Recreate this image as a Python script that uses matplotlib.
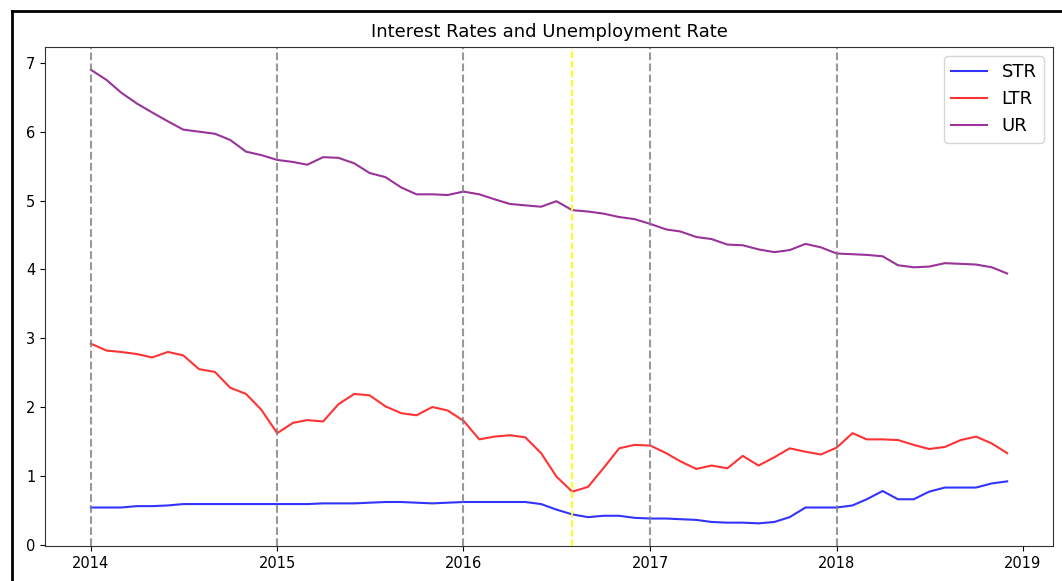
import matplotlib
matplotlib.use("Agg")
import matplotlib.pyplot as plt
import pandas as pd
from matplotlib.lines import Line2D

# monthly values, Jan 2014 .. Dec 2018
dates = pd.date_range("2014-01-01", periods=60, freq="MS")

str_rate = [0.54, 0.54, 0.54, 0.56, 0.56, 0.57, 0.59, 0.59, 0.59, 0.59, 0.59, 0.59,
            0.59, 0.59, 0.59, 0.60, 0.60, 0.60, 0.61, 0.62, 0.62, 0.61, 0.60, 0.61,
            0.62, 0.62, 0.62, 0.62, 0.62, 0.59, 0.51, 0.44, 0.40, 0.42, 0.42, 0.39,
            0.38, 0.38, 0.37, 0.36, 0.33, 0.32, 0.32, 0.31, 0.33, 0.40, 0.54, 0.54,
            0.54, 0.57, 0.66, 0.78, 0.66, 0.66, 0.77, 0.83, 0.83, 0.83, 0.89, 0.92]

ltr_rate = [2.92, 2.82, 2.80, 2.77, 2.72, 2.80, 2.75, 2.55, 2.51, 2.28, 2.19, 1.96,
            1.62, 1.77, 1.81, 1.79, 2.04, 2.19, 2.17, 2.01, 1.91, 1.88, 2.00, 1.95,
            1.80, 1.53, 1.57, 1.59, 1.56, 1.33, 0.99, 0.77, 0.84, 1.11, 1.40, 1.45,
            1.44, 1.33, 1.21, 1.10, 1.15, 1.11, 1.29, 1.15, 1.27, 1.40, 1.35, 1.31,
            1.41, 1.62, 1.53, 1.53, 1.52, 1.45, 1.39, 1.42, 1.52, 1.57, 1.47, 1.33]

ur_rate = [6.90, 6.75, 6.57, 6.41, 6.28, 6.15, 6.03, 6.00, 5.97, 5.88, 5.71, 5.66,
           5.59, 5.56, 5.52, 5.63, 5.62, 5.54, 5.40, 5.34, 5.19, 5.09, 5.09, 5.08,
           5.13, 5.09, 5.02, 4.95, 4.93, 4.91, 4.99, 4.86, 4.84, 4.81, 4.76, 4.73,
           4.66, 4.58, 4.55, 4.47, 4.44, 4.36, 4.35, 4.29, 4.25, 4.28, 4.37, 4.32,
           4.23, 4.22, 4.21, 4.19, 4.06, 4.03, 4.04, 4.09, 4.08, 4.07, 4.03, 3.94]

year_lines = ["2014-01-01", "2015-01-01", "2016-01-01", "2017-01-01", "2018-01-01"]
event_line = "2016-08-01"

fig = plt.figure(figsize=(10.62, 5.81), dpi=100)
ax = fig.add_axes([0.0424, 0.0602, 0.9491, 0.8588])

ax.plot(dates, str_rate, color="blue", alpha=0.8, lw=1.5, label="STR")
ax.plot(dates, ltr_rate, color="red", alpha=0.8, lw=1.5, label="LTR")
ax.plot(dates, ur_rate, color="purple", alpha=0.8, lw=1.5, label="UR")

for d in year_lines:
    ax.axvline(pd.Timestamp(d), color="gray", linestyle="--", lw=1.5, alpha=0.8)
ax.axvline(pd.Timestamp(event_line), color="yellow", linestyle="--", lw=1.3)

ax.set_title("Interest Rates and Unemployment Rate", fontsize=13, pad=7)
ax.tick_params(labelsize=10.5)
for s in ax.spines.values():
    s.set_color("#333333")
ax.legend(loc="upper right", fontsize=13)

# screenshot frame (left and top edges)
fig.add_artist(Line2D([12 / 1062, 12 / 1062], [0, 1 - 11 / 581], color="black", lw=2,
                      transform=fig.transFigure))
fig.add_artist(Line2D([12 / 1062, 1], [1 - 11 / 581, 1 - 11 / 581], color="black", lw=2,
                      transform=fig.transFigure))

fig.savefig("out.png", dpi=100)
